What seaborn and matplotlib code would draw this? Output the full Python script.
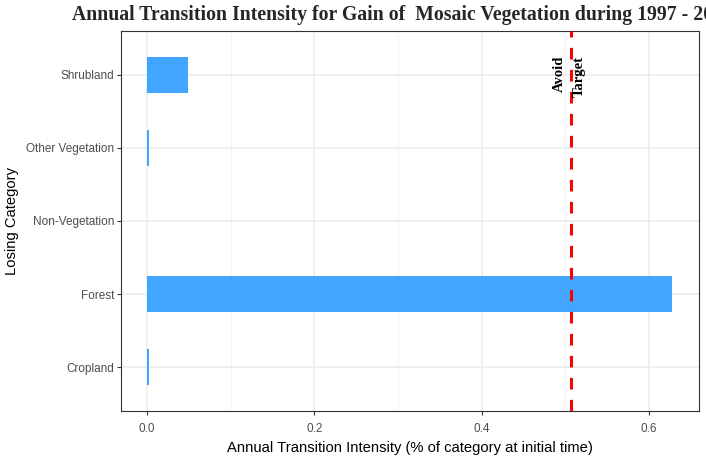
import seaborn as sns
import pandas as pd
import numpy as np
import matplotlib.pyplot as plt
import matplotlib.transforms as mtransforms

# data
categories = ["Shrubland", "Other Vegetation", "Non-Vegetation", "Forest", "Cropland"]
intensity = [0.049, 0.0022, 0.0, 0.628, 0.0022]
uniform_line = 0.507
plot_title = "Annual Transition Intensity for Gain of  Mosaic Vegetation during 1997 - 2000"

df = pd.DataFrame({"category": categories, "intensity": intensity})

sns.set_style("white")
plt.rcParams['font.family'] = ['Liberation Sans', 'DejaVu Sans']

fig = plt.figure(figsize=(7.06, 4.59), dpi=100)
ax = fig.add_axes([121 / 706, 48 / 459, 578 / 706, 380 / 459])

sns.barplot(data=df, x="intensity", y="category", order=categories,
            color="#42A5FF", saturation=1, width=0.5, orient="h", ax=ax,
            linewidth=0, zorder=2)

ax.set_xlim(-0.0314, 0.66)
ax.set_ylim(4.6, -0.6)
ax.set_xticks([0.0, 0.2, 0.4, 0.6])
ax.set_xticklabels(["0.0", "0.2", "0.4", "0.6"])
ax.set_xticks([0.1, 0.3, 0.5], minor=True)

ax.grid(True, which="major", color="#EBEBEB", linewidth=1.1, zorder=0)
ax.grid(True, which="minor", axis="x", color="#F2F2F2", linewidth=0.6, zorder=0)
ax.set_axisbelow(True)
for s in ax.spines.values():
    s.set_color("#333333")
    s.set_linewidth(0.8)

ax.tick_params(axis="both", which="major", length=3, width=0.8, color="#333333",
               labelsize=8.5, labelcolor="#4D4D4D", pad=2,
               bottom=True, left=True)
ax.tick_params(axis="x", which="major", pad=6)
ax.tick_params(axis="x", which="minor", length=0)

ax.set_xlabel("Annual Transition Intensity (% of category at initial time)",
              fontsize=10.6, color="black", labelpad=4)
ax.set_ylabel("Losing Category", fontsize=10.6, color="black", labelpad=5)

ax.axvline(uniform_line, color="red", linewidth=2.2, linestyle=(0, (3.8, 3.4)), zorder=3)

trans = mtransforms.blended_transform_factory(ax.transData, ax.transAxes)
ax.annotate("Avoid", xy=(uniform_line, 0.935), xycoords=trans,
            xytext=(-4, 0), textcoords="offset points",
            rotation=90, ha="right", va="top", fontsize=10.5,
            family="Liberation Serif", fontweight="bold", color="black")
ax.annotate("Target", xy=(uniform_line, 0.935), xycoords=trans,
            xytext=(1, 0), textcoords="offset points",
            rotation=90, ha="left", va="top", fontsize=10.5,
            family="Liberation Serif", fontweight="bold", color="black")

# the reference title runs past the right edge of the figure
fig.text(72 / 706, 1 - 15 / 459, plot_title, ha="left", va="center",
         fontsize=14.2, family="Liberation Serif", fontweight="bold")

fig.savefig("out.png", dpi=100)
